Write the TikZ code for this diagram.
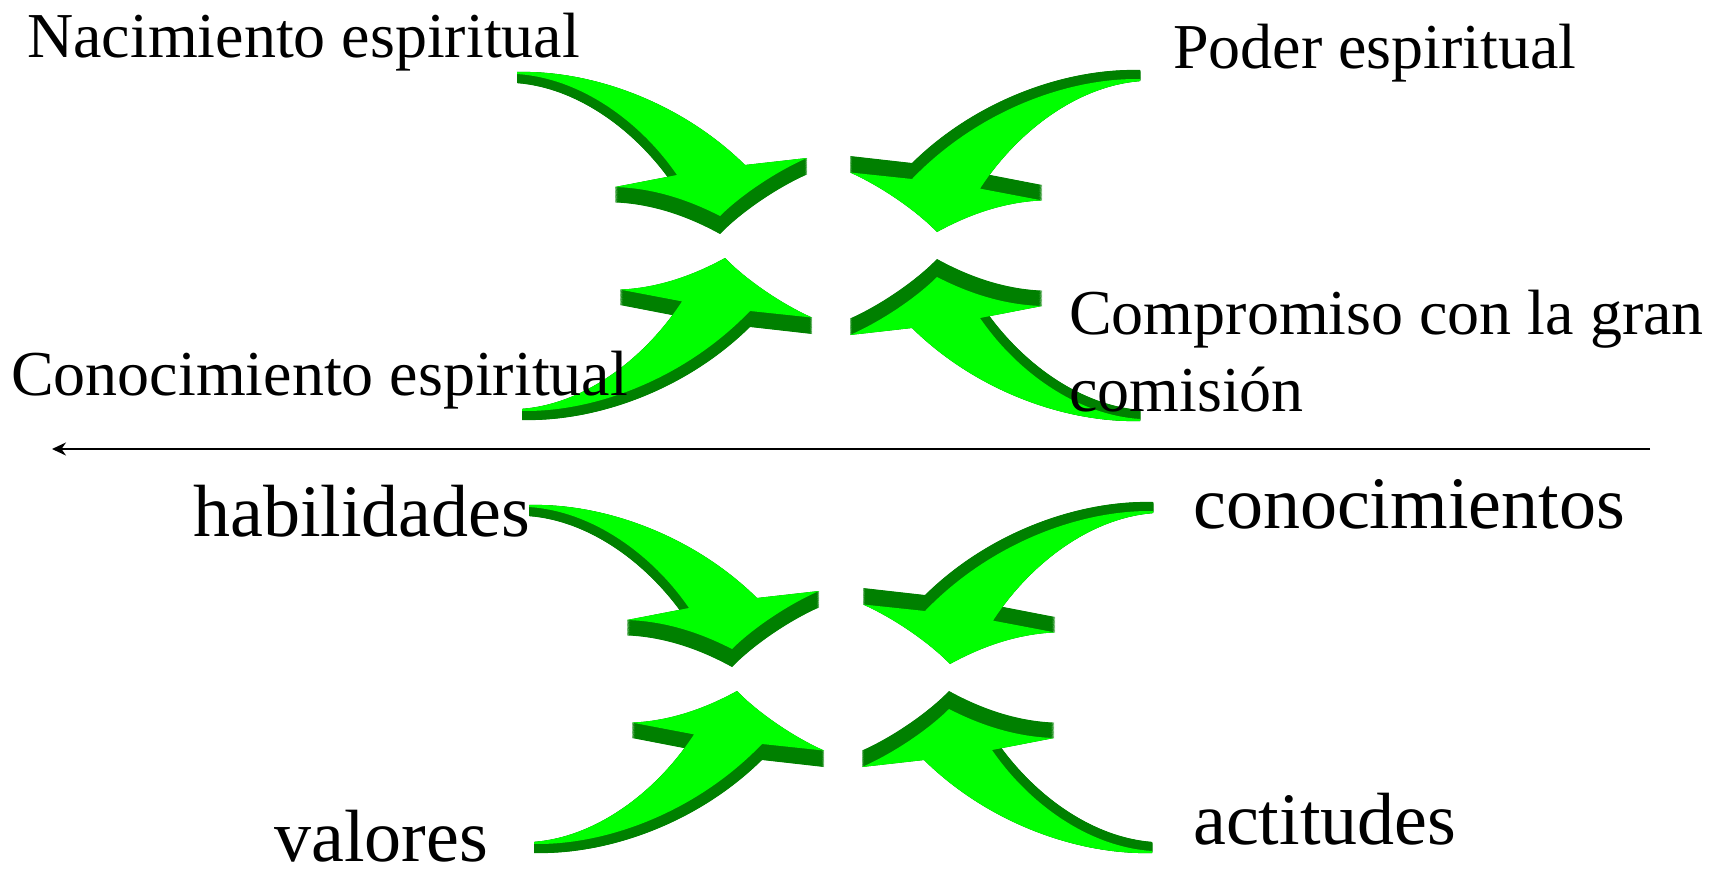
\documentclass[tikz,border=0pt]{standalone}
\usepackage{fontspec}
\setmainfont{Liberation Serif}
\usetikzlibrary{arrows.meta}
\definecolor{facegreen}{HTML}{00FF00}
\definecolor{sidegreen}{HTML}{008000}
\newcommand{\arrowshape}{(-203,-144) .. controls (-130,-146) and (-40,-115) .. (25,-51) -- (87,-58) .. controls (55,-44) and (20,-20) .. (0,0) .. controls (-35,-18) and (-70,-28) .. (-105,-29) -- (-43,-41) .. controls (-80,-95) and (-140,-138) .. (-203,-142) -- cycle}
\tikzset{
  arrowT/.style={yshift={-18pt*#1}, yslant={-0.0122*#1}, yscale={1+0.045*#1}},
  toplabel/.style={font=\fontsize{64}{77}\selectfont, inner sep=0pt, anchor=base west, align=left},
  botlabel/.style={font=\fontsize{74}{89}\selectfont, inner sep=0pt, anchor=base west},
  axisline/.style={line width=2pt, -{Stealth[length=14pt,width=13pt]}}
}
\newcommand{\sweeparrow}[5]{%
  \begin{scope}[shift={(#1,#2)},xscale=#3,yscale=#4]
    \foreach \t in {0,0.025,...,1.01}{\fill[sidegreen,arrowT=\t] \arrowshape;}
    \fill[facegreen,arrowT=#5] \arrowshape;
  \end{scope}}
\begin{document}
\begin{tikzpicture}[x=1pt,y=-1pt]
\useasboundingbox (0,0) rectangle (1719,878);
% top group
\sweeparrow{720}{216}{1}{1}{0}
\sweeparrow{937}{214}{-1}{1}{1}
\sweeparrow{725}{276}{1}{-1}{1}
\sweeparrow{937}{277}{-1}{-1}{0}
% bottom group
\sweeparrow{732}{649}{1}{1}{0}
\sweeparrow{950}{646}{-1}{1}{1}
\sweeparrow{737}{709}{1}{-1}{1}
\sweeparrow{949}{709}{-1}{-1}{0}
% axis
\coordinate (lineR) at (1650,449);
\coordinate (lineL) at (52,449);
\draw[axisline] (lineR) -- (lineL);
% labels
\node[toplabel] (nac) at (27,57) {Nacimiento espiritual};
\node[toplabel] (pod) at (1173,68) {Poder espiritual};
\node[toplabel] (comp) at (1069,411) {Compromiso con la gran\\comisión};
\node[toplabel] (con) at (11,395) {Conocimiento espiritual};
\node[botlabel] (hab) at (193,536) {habilidades};
\node[botlabel] (cono) at (1193,528) {conocimientos};
\node[botlabel] (val) at (274,861) {valores};
\node[botlabel] (act) at (1193,844) {actitudes};
\end{tikzpicture}
\end{document}
